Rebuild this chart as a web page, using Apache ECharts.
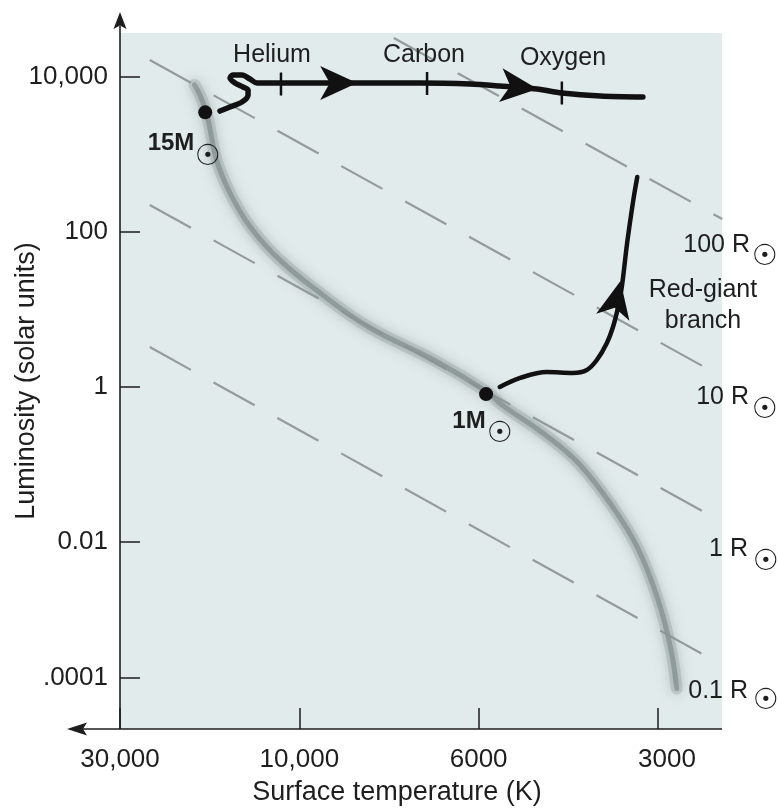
<!DOCTYPE html>
<html><head><meta charset="utf-8">
<script src="https://cdn.jsdelivr.net/npm/echarts@6/dist/echarts.min.js"></script>
<style>html,body{margin:0;padding:0;background:#fff}#c{width:778px;height:810px}</style>
</head><body><div id="c"></div>
<script>
// ---- axis ticks ----
const tempTicks = [30000, 10000, 6000, 3000];
const tempTickLabels = ['30,000', '10,000', '6000', '3000'];
const lumTicks = [10000, 100, 1, 0.01, 0.0001];
const lumTickLabels = ['10,000', '100', '1', '0.01', '.0001'];

// ---- main sequence band (T in K, L in solar units) ----
const msTemp = [19000, 18400, 17600, 16600, 15300, 13500, 11300, 9400, 8200, 6800, 5800, 5500, 4600, 4060, 3570, 3250, 3010, 2860, 2790];
const msLum  = [7900, 5900, 3200, 850, 320, 116, 44, 16, 5.9, 2.2, 0.86, 0.6, 0.23, 0.10, 0.028, 0.0084, 0.00155, 0.00029, 0.00007];

// ---- 15 solar-mass evolutionary track ----
const track15Temp = [16260, 15290, 14210, 13690, 13690, 14120, 14830, 15290, 15020, 14210, 13530, 12960, 11970, 9980, 8410, 7090, 6150, 5530, 4790, 4350, 3750, 3180];
const track15Lum  = [3640, 4100, 4750, 5860, 6800, 7430, 8370, 9700, 10600, 10600, 9420, 8370, 8370, 8370, 8370, 8370, 8120, 7660, 7000, 6220, 5690, 5520];

// ---- burning stages on the 15M track ----
const stageNames = ['Helium', 'Carbon', 'Oxygen'];
const stageTemp  = [11190, 6950, 4350];
const stageLum   = [8120, 8250, 6220];

// ---- 1 solar-mass red-giant track ----
const track1Temp = [5530, 5110, 4610, 4170, 3950, 3800, 3655, 3570, 3500, 3450, 3380, 3300, 3250];
const track1Lum  = [1.0, 1.31, 1.56, 1.52, 1.66, 2.23, 3.70, 5.94, 10.8, 19.5, 72, 259, 513];

// ---- stars ----
const starNames = ['15M', '1M'];
const starTemp  = [17800, 5830];
const starLum   = [3500, 0.81];

// ---- arrowheads along the tracks ----
const arrowTemp = [8940, 5130, 3520];
const arrowLum  = [8370, 7430, 13.6];

// ---- lines of constant radius ----
const radiusNames   = ['100 R', '10 R', '1 R', '0.1 R'];
const radiusLineTemp = [[7640, 2340], [25000, 2340], [25000, 2340], [25000, 2340]];
const radiusLineLum  = [[31850, 147], [16560, 1.35], [223, 0.0181], [3.28, 0.000155]];

// ---- schematic scales (axis position of each tick) ----
const xStops = [0, 1, 2, 3];
const yStops = [4, 2, 0, -2, -3.755];
function interpLog(v, ticks, stops) {
  const lv = Math.log10(v), lt = ticks.map(Math.log10);
  let i = 0;
  for (i = 0; i < lt.length - 2; i++) { if (lv >= lt[i + 1]) break; }
  const t = (lv - lt[i]) / (lt[i + 1] - lt[i]);
  return stops[i] + t * (stops[i + 1] - stops[i]);
}
const tx = T => interpLog(T, tempTicks, xStops);
const ly = L => interpLog(L, lumTicks, yStops);
const pts = (Ts, Ls) => Ts.map((T, i) => [tx(T), ly(Ls[i])]);
function labelFor(v, stops, labels) {
  for (let i = 0; i < stops.length; i++) if (Math.abs(stops[i] - v) < 1e-6) return labels[i];
  return '';
}

const FONT = '"Liberation Sans", Arial, Helvetica, sans-serif';
const INK = '#1e1e1e';
const chart = echarts.init(document.getElementById('c'));

const series = [];
// main sequence band (soft, blurred)
series.push({ type: 'line', data: pts(msTemp, msLum), smooth: 0.4, symbol: 'none', z: 1,
  lineStyle: { width: 12, color: 'rgba(140,151,151,0.3)', shadowBlur: 14, shadowColor: 'rgba(100,110,110,0.8)', cap: 'round' } });
series.push({ type: 'line', data: pts(msTemp, msLum), smooth: 0.4, symbol: 'none', z: 1,
  lineStyle: { width: 5, color: 'rgba(105,116,116,0.45)', shadowBlur: 8, shadowColor: 'rgba(105,116,116,0.6)', cap: 'round' } });
// radius lines
radiusNames.forEach((n, k) => {
  series.push({ type: 'line', name: n, data: pts(radiusLineTemp[k], radiusLineLum[k]), symbol: 'none', z: 2,
    lineStyle: { width: 2.2, color: 'rgba(140,146,146,0.9)', type: [47, 26] } });
});
// tracks
series.push({ type: 'line', data: pts(track15Temp, track15Lum), smooth: 0.3, symbol: 'none', z: 4,
  lineStyle: { width: 5.5, color: '#111', cap: 'round', join: 'round' } });
series.push({ type: 'line', data: pts(track1Temp, track1Lum), smooth: 0.35, symbol: 'none', z: 4,
  lineStyle: { width: 4.5, color: '#111', cap: 'round', join: 'round' } });
// stage ticks
series.push({ type: 'scatter', data: pts(stageTemp, stageLum), symbol: 'rect', symbolSize: [2.5, 23], z: 5,
  itemStyle: { color: '#111', opacity: 1 } });
// arrowheads
const arrowRot = [-90, -96, -12];
series.push({ type: 'scatter', z: 6,
  data: pts(arrowTemp, arrowLum).map((p, i) => ({ value: p, symbolRotate: arrowRot[i] })),
  symbol: 'path://M50,0 L100,100 L50,74 L0,100 Z', symbolSize: [34, 37], itemStyle: { color: '#111', opacity: 1 } });
// stars
series.push({ type: 'scatter', data: pts(starTemp, starLum), symbolSize: 14, z: 7, itemStyle: { color: '#111', opacity: 1 } });

const txt = (s, x, y, opt) => Object.assign({ type: 'text', z: 100,
  style: Object.assign({ text: s, x, y, fill: INK, font: '25px ' + FONT, align: 'center', verticalAlign: 'middle' }, opt || {}) });
const sun = (x, y) => txt('\u2609', x, y, { font: '29px "DejaVu Sans"' });

chart.setOption({
  animation: false,
  backgroundColor: '#ffffff',
  grid: { left: 120, right: 56, top: 33, bottom: 81, show: true, backgroundColor: '#e2ebeb', borderWidth: 0,
    containLabel: false, outerBoundsMode: 'none' },
  xAxis: { type: 'value', min: 0, max: 3.357,
    name: 'Surface temperature (K)', nameLocation: 'middle', nameGap: 50, nameMoveOverlap: false,
    nameTextStyle: { fontSize: 27, color: INK, fontFamily: FONT, padding: [0, 48, 0, 0] },
    axisLine: { show: false, onZero: false }, splitLine: { show: false },
    axisTick: { show: true, inside: true, length: 21, customValues: xStops, lineStyle: { color: INK, width: 1.5 } },
    axisLabel: { customValues: xStops, margin: 18, fontSize: 26, color: INK, fontFamily: FONT,
      formatter: v => { const s = labelFor(v, xStops, tempTickLabels); return v === 3 ? '{r|' + s + '}' : s; },
      rich: { r: { fontSize: 26, color: INK, fontFamily: FONT, padding: [0, 0, 0, 18] } } } },
  yAxis: { type: 'value', min: -4.413, max: 4.568,
    name: 'Luminosity (solar units)', nameLocation: 'middle', nameGap: 80, nameMoveOverlap: false,
    nameTextStyle: { fontSize: 27, color: INK, fontFamily: FONT },
    axisLine: { show: false, onZero: false }, splitLine: { show: false },
    axisTick: { show: true, inside: true, length: 20, customValues: yStops, lineStyle: { color: INK, width: 1.5 } },
    axisLabel: { customValues: yStops, margin: 12, fontSize: 26, color: INK, fontFamily: FONT,
      formatter: v => labelFor(v, yStops, lumTickLabels) } },
  series: series,
  graphic: [
    { type: 'line', z: 100, shape: { x1: 120, y1: 729, x2: 120, y2: 26 }, style: { stroke: INK, lineWidth: 1.6 } },
    { type: 'polygon', z: 100, shape: { points: [[120, 12], [126.5, 29], [120, 25.5], [113.5, 29]] }, style: { fill: INK } },
    { type: 'line', z: 100, shape: { x1: 722, y1: 729, x2: 82, y2: 729 }, style: { stroke: INK, lineWidth: 1.6 } },
    { type: 'polygon', z: 100, shape: { points: [[67, 729], [87, 722.5], [83, 729], [87, 735.5]] }, style: { fill: INK } },
    txt(stageNames[0], 272, 55), txt(stageNames[1], 424, 55), txt(stageNames[2], 563, 58),
    txt(starNames[0], 171, 143, { font: 'bold 24px ' + FONT }), sun(208, 157),
    txt(starNames[1], 469, 421, { font: 'bold 24px ' + FONT }), sun(500, 434),
    txt('Red-giant', 703, 290), txt('branch', 703, 321),
    txt(radiusNames[0], 750, 245, { align: 'right' }), sun(765, 257),
    txt(radiusNames[1], 749, 397, { align: 'right' }), sun(765, 410),
    txt(radiusNames[2], 748, 549, { align: 'right' }), sun(766, 562),
    txt(radiusNames[3], 748, 691, { align: 'right' }), sun(766, 701)
  ]
});
</script></body></html>
